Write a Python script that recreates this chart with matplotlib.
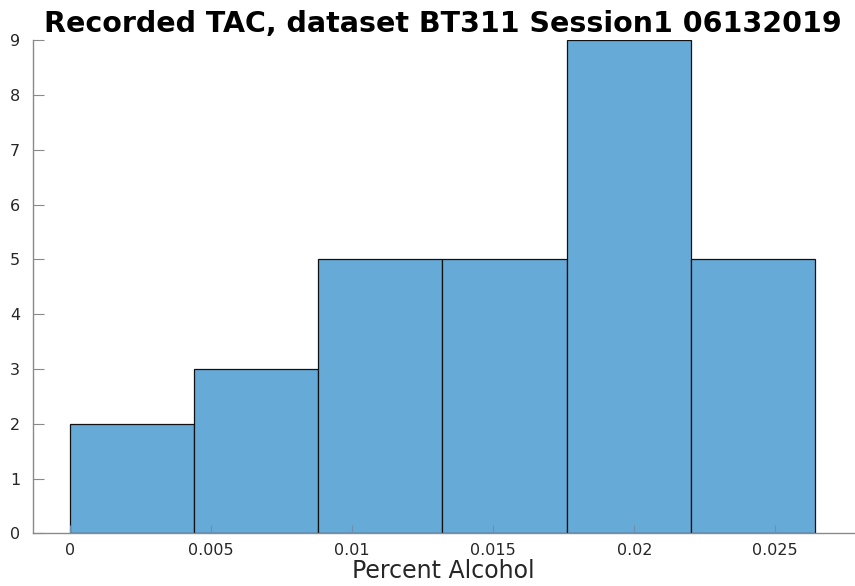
import numpy as np
import matplotlib
matplotlib.use("Agg")
import matplotlib.pyplot as plt

# Dados do histograma
bordas = [0.0, 0.0044, 0.0088, 0.0132, 0.0176, 0.0220, 0.0264]
contagens = [2, 3, 5, 5, 9, 5]
x_ticks = [0, 0.005, 0.01, 0.015, 0.02, 0.025]
x_labels = ["0", "0.005", "0.01", "0.015", "0.02", "0.025"]
y_ticks = list(range(0, 10))

plt.rcParams['font.family'] = ['DejaVu Sans']

fig = plt.figure(figsize=(8.55, 5.86), dpi=100)
ax = fig.add_axes([0.0382, 0.0899, 0.9603, 0.8413])

larguras = np.diff(bordas)
ax.bar(bordas[:-1], contagens, width=larguras, align='edge',
       color='#66aad7', edgecolor='#111111', linewidth=0.9)

ax.set_xlim(-0.00133, 0.02778)
ax.set_ylim(0, 9)
ax.set_xticks(x_ticks)
ax.set_xticklabels(x_labels)
ax.set_yticks(y_ticks)

for lado in ['top', 'right']:
    ax.spines[lado].set_visible(False)
for lado in ['left', 'bottom']:
    ax.spines[lado].set_color('#8a8a8a')
    ax.spines[lado].set_linewidth(1.0)

ax.tick_params(axis='x', direction='in', length=6, width=0.8, color='#6f8fae',
               labelsize=11.5, labelcolor='#262626', pad=7)
ax.tick_params(axis='y', direction='in', length=8, width=0.8, color='#8a8a8a',
               labelsize=11.5, labelcolor='#262626', pad=9)

ax.set_xlabel("Percent Alcohol", fontsize=17, color='#262626', labelpad=1)
ax.set_title("Recorded TAC, dataset BT311 Session1 06132019",
             fontsize=20.5, fontweight='bold', pad=6)

fig.savefig("out.png", dpi=100)
